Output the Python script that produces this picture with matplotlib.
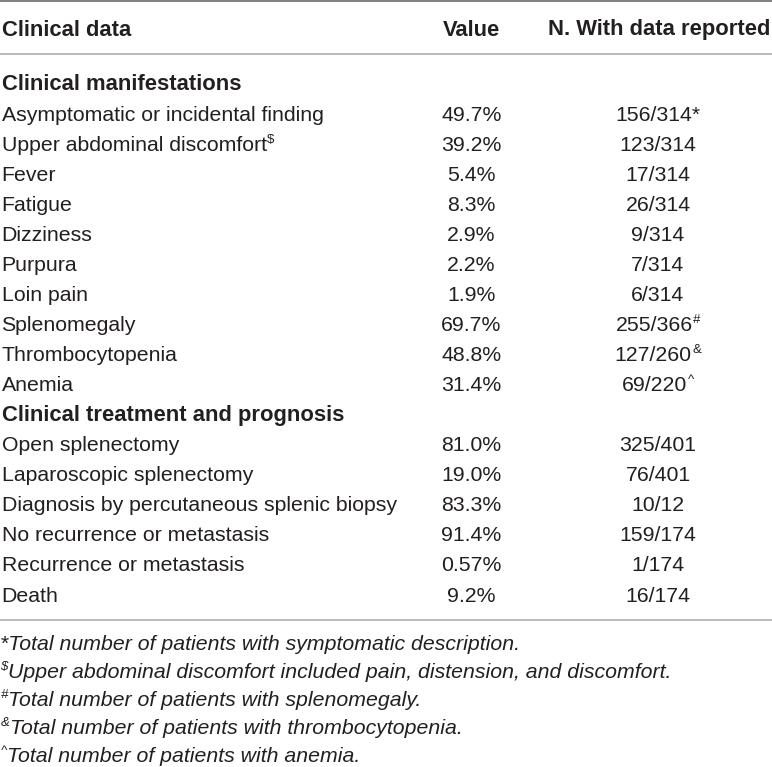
import matplotlib
matplotlib.use("Agg")
import matplotlib.pyplot as plt

plt.rcParams["font.family"] = ["Liberation Sans", "DejaVu Sans"]

# table content
headers = ["Clinical data", "Value", "N. With data reported"]

section1 = "Clinical manifestations"
items1 = ["Asymptomatic or incidental finding", "Upper abdominal discomfort",
          "Fever", "Fatigue", "Dizziness", "Purpura", "Loin pain",
          "Splenomegaly", "Thrombocytopenia", "Anemia"]
values1 = ["49.7%", "39.2%", "5.4%", "8.3%", "2.9%", "2.2%", "1.9%",
           "69.7%", "48.8%", "31.4%"]
counts1 = ["156/314*", "123/314", "17/314", "26/314", "9/314", "7/314",
           "6/314", "255/366", "127/260", "69/220"]
item_sups1 = ["", "$", "", "", "", "", "", "", "", ""]
count_sups1 = ["", "", "", "", "", "", "", "#", "&", "^"]

section2 = "Clinical treatment and prognosis"
items2 = ["Open splenectomy", "Laparoscopic splenectomy",
          "Diagnosis by percutaneous splenic biopsy",
          "No recurrence or metastasis", "Recurrence or metastasis", "Death"]
values2 = ["81.0%", "19.0%", "83.3%", "91.4%", "0.57%", "9.2%"]
counts2 = ["325/401", "76/401", "10/12", "159/174", "1/174", "16/174"]

note_marks = ["", "$", "#", "&", "^"]
notes = ["*Total number of patients with symptomatic description.",
         "Upper abdominal discomfort included pain, distension, and discomfort.",
         "Total number of patients with splenomegaly.",
         "Total number of patients with thrombocytopenia.",
         "Total number of patients with anemia."]

W, H = 772, 767
fig = plt.figure(figsize=(W / 100, H / 100), dpi=100)
ax = fig.add_axes([0, 0, 1, 1])
ax.set_xlim(0, W)
ax.set_ylim(H, 0)
ax.axis("off")
renderer = fig.canvas.get_renderer()

FS = 15.3
FS_BOLD = 15.8
SUP_FS = 9.5
COL = "#231f20"
X_LABEL, X_VALUE, X_COUNT = 1.5, 471.5, 658


def put(x, y, s, sup="", ha="left", weight="normal", style="normal", sup_first=False):
    size = FS_BOLD if weight == "bold" else FS
    kw = dict(fontsize=size, color=COL, weight=weight, style=style, va="baseline",
              parse_math=False)
    skw = dict(kw, fontsize=SUP_FS)
    t = ax.text(0, y, s, ha="left", **kw)
    w = t.get_window_extent(renderer).width
    sw = 0
    st = None
    if sup:
        st = ax.text(0, y - 8, sup, ha="left", **skw)
        sw = st.get_window_extent(renderer).width + 0.5
    total = w + sw
    if ha == "center":
        x0 = x - total / 2
    elif ha == "right":
        x0 = x - total
    else:
        x0 = x
    if sup_first and st is not None:
        st.set_x(x0)
        t.set_x(x0 + sw)
    else:
        t.set_x(x0)
        if st is not None:
            st.set_x(x0 + w + 0.5)


# header
put(X_LABEL, 35.5, headers[0], weight="bold")
put(X_VALUE, 35.5, headers[1], ha="center", weight="bold")
put(770.5, 35.5, headers[2], ha="right", weight="bold")

ax.axhline(1, color="#808080", lw=1.4)
ax.axhline(54, color="#a8a8a8", lw=1.1)

base0, step = 90.5, 30.06
rows = [(section1, None, None, "", "")]
rows += list(zip(items1, values1, counts1, item_sups1, count_sups1))
rows += [(section2, None, None, "", "")]
rows += [(a, b, c, "", "") for a, b, c in zip(items2, values2, counts2)]

for i, (label, val, cnt, lsup, csup) in enumerate(rows):
    y = base0 + step * i
    if val is None:
        put(X_LABEL, y, label, weight="bold")
        continue
    put(X_LABEL, y, label, sup=lsup)
    put(X_VALUE, y, val, ha="center")
    put(X_COUNT, y, cnt, sup=csup, ha="center")

ax.axhline(620, color="#a8a8a8", lw=1.1)

for j, (mark, note) in enumerate(zip(note_marks, notes)):
    y = 649.5 + 28.2 * j
    put(0.5, y, note, sup=mark, style="italic", sup_first=True)

fig.savefig("out.png", dpi=100, facecolor="white")
